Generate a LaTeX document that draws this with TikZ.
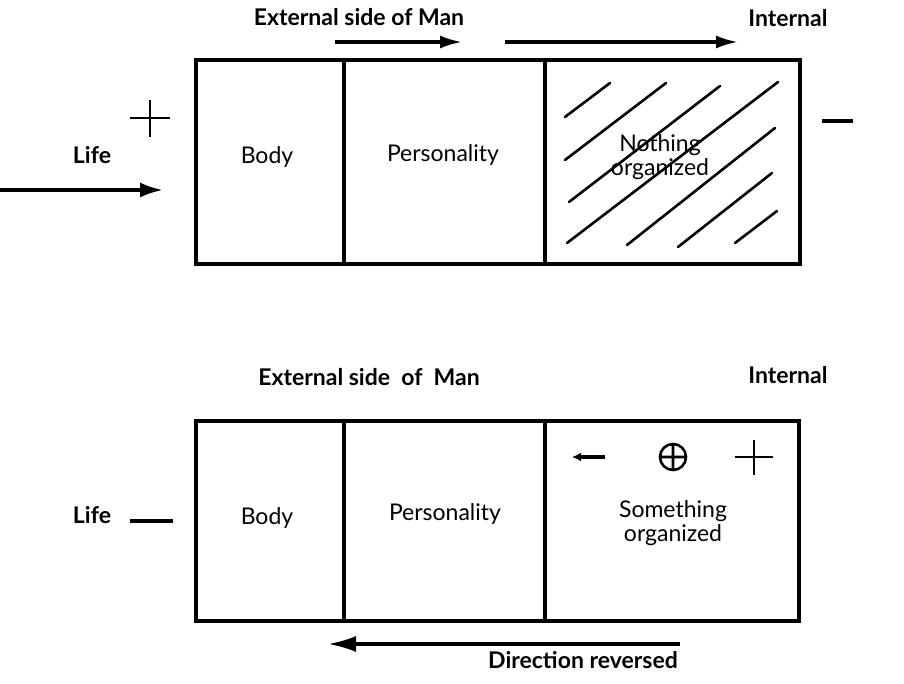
\documentclass[tikz,border=0pt]{standalone}
\usepackage{fontspec}
\setmainfont{Lato}
\usetikzlibrary{arrows.meta,positioning}

\begin{document}
\begin{tikzpicture}[x=1pt,y=-1pt,>={Latex[length=22pt,width=13pt]},
  frame/.style={line width=3.2pt,line join=miter},
  flow/.style={line width=3.2pt,->},
  sign/.style={line width=2.8pt},
  hatch/.style={line width=2.6pt,line cap=round},
  head/.style={font=\fontsize{23}{26}\selectfont\bfseries,inner sep=0pt},
  boxtext/.style={font=\fontsize{23}{24}\selectfont,align=center,inner sep=0pt}]
  % Configurable parameters
  \def\xa{196}
  \def\xb{344}
  \def\xc{545}
  \def\xd{800}
  %
  % Canvas
  \useasboundingbox (0,0) rectangle (904,684);
  %
  % Upper diagram: frame
  \draw[frame] (\xa,60) rectangle (\xd,264);
  \draw[frame] (\xb,60) -- (\xb,264) (\xc,60) -- (\xc,264);
  %
  % Hatching of the inner cell
  \foreach \ax/\ay/\bx/\by in {565/117/610/83,565/160/666/83,569/202/720/86,
                               567/243/778/82,627/245/775/128,678/247/772/173,735/243/777/211}
    \draw[hatch] (\ax,\ay) -- (\bx,\by);
  %
  % Upper diagram: labels
  \node[head] (extA) at (359,17) {External side of Man};
  \node[head] (intA) at (788,18) {Internal};
  \node[head] (lifeA) at (92,155) {Life};
  \node[boxtext] (bodyA) at (267,157) {Body};
  \node[boxtext] (persA) at (443,155) {Personality};
  \node[boxtext] (nothing) at (660,157) {Nothing\\organized};
  %
  % Upper diagram: arrows and signs
  \coordinate (flowA1) at (335,42);
  \coordinate (flowA2) at (462,42);
  \coordinate (flowB1) at (505,42);
  \coordinate (flowB2) at (738,42);
  \coordinate (lifeS) at (0,190);
  \coordinate (lifeE) at (163,190);
  \draw[flow] (flowA1) -- (flowA2);
  \draw[flow] (flowB1) -- (flowB2);
  \draw[flow,-{Latex[length=23pt,width=15pt]}] (lifeS) -- (lifeE);
  \draw[sign] (130,118) -- (170,118) (150,100) -- (150,137);
  \draw[sign,line width=3.2pt] (822,121) -- (853,121);
  %
  % Lower diagram: frame
  \draw[frame] (\xa,421) rectangle (\xd-1,621);
  \draw[frame] (\xb,421) -- (\xb,621) (\xc,421) -- (\xc,621);
  %
  % Lower diagram: labels
  \node[head] (extB) at (369,377) {External side\ \ of\ \ Man};
  \node[head] (intB) at (788,375) {Internal};
  \node[head] (lifeB) at (92,515) {Life};
  \node[boxtext] (bodyB) at (267,518) {Body};
  \node[boxtext] (persB) at (445,514) {Personality};
  \node[boxtext] (something) at (673,523) {Something\\organized};
  \node[head,anchor=east] (reversed) at (678,660) {Direction reversed};
  %
  % Lower diagram: arrows and signs
  \draw[sign,line width=3.2pt] (130,521) -- (173,521);
  \draw[line width=3.2pt,-{Latex[length=9pt,width=9pt]}] (605,457) -- (572,457);
  \draw[line width=2.6pt] (673,457) circle[radius=13]
    (660,457) -- (686,457) (673,444) -- (673,470);
  \draw[sign] (735,457) -- (773,457) (754,440) -- (754,475);
  \coordinate (backS) at (680,644);
  \coordinate (backE) at (328,644);
  \draw[flow,-{Latex[length=28pt,width=16pt]}] (backS) -- (backE);
  %
\end{tikzpicture}
\end{document}
